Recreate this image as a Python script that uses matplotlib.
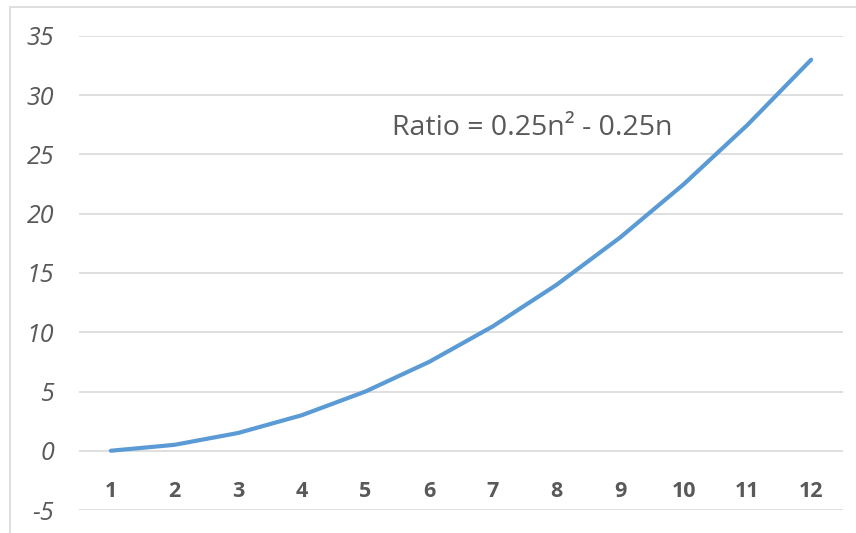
import matplotlib
matplotlib.use("Agg")
import matplotlib.pyplot as plt
from matplotlib.patches import Rectangle

# values
N_VALUES = [1, 2, 3, 4, 5, 6, 7, 8, 9, 10, 11, 12]
RATIO = [0, 0.5, 1.5, 3, 5, 7.5, 10.5, 14, 18, 22.5, 27.5, 33]
Y_TICKS = [-5, 0, 5, 10, 15, 20, 25, 30, 35]
LABEL = "Ratio = 0.25n\u00b2 - 0.25n"

LINE_COLOR = "#5B9BD5"
TEXT_COLOR = "#595959"
GRID_COLOR = "#D9D9D9"

plt.rcParams["font.family"] = ["Open Sans", "DejaVu Sans"]

fig = plt.figure(figsize=(8.56, 5.33), dpi=100)
fig.patches.append(
    Rectangle((10 / 856, -0.1), 1.2, 1.1 - 7 / 533, transform=fig.transFigure,
              fill=False, edgecolor=GRID_COLOR, linewidth=1.2)
)
ax = fig.add_axes([79 / 856, 1 - 510 / 533, 764 / 856, 474 / 533])

ax.plot(N_VALUES, RATIO, color=LINE_COLOR, linewidth=3.0,
        solid_capstyle="round", solid_joinstyle="round", zorder=3)

# category labels sit just under the zero line, as in Excel
for side in ("top", "right", "left", "bottom"):
    ax.spines[side].set_visible(False)
ax.spines["bottom"].set_position(("data", 0))

ax.set_xlim(0.5, 12.5)
ax.set_ylim(-5, 35)
ax.set_yticks(Y_TICKS)
ax.set_yticklabels([str(v) for v in Y_TICKS], fontstyle="italic",
                   fontsize=18, color=TEXT_COLOR)
ax.set_xticks(N_VALUES)
ax.set_xticklabels([str(v) for v in N_VALUES], fontweight="bold",
                   fontsize=15.5, color=TEXT_COLOR)
ax.grid(axis="y", color=GRID_COLOR, linewidth=1.2)
ax.set_axisbelow(True)
ax.tick_params(axis="y", length=0, pad=18)
ax.tick_params(axis="x", length=0, pad=22)

ax.text(5.42, 27.2, LABEL, fontsize=20.5, color=TEXT_COLOR, ha="left", va="center")

fig.savefig("out.png", dpi=100)
